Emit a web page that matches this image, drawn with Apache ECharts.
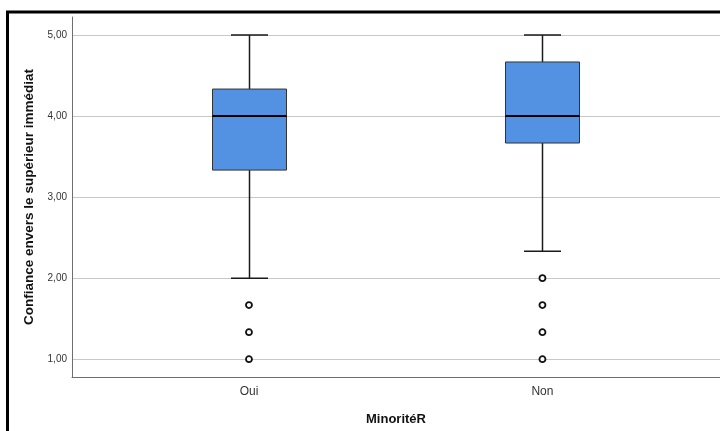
<!DOCTYPE html>
<html>
<head>
<meta charset="utf-8">
<script src="https://cdn.jsdelivr.net/npm/echarts@6/dist/echarts.min.js"></script>
<style>html,body{margin:0;padding:0;background:#fff}#c{width:720px;height:431px}</style>
</head>
<body>
<div id="c"></div>
<script>
// Data
var categories = ['Oui', 'Non'];
var whiskerLow  = [2.00, 2.333];
var q1Values    = [3.333, 3.667];
var medians     = [4.00, 4.00];
var q3Values    = [4.333, 4.667];
var whiskerHigh = [5.00, 5.00];
var outliersOui = [1.667, 1.333, 1.00];
var outliersNon = [2.00, 1.667, 1.333, 1.00];
var yTicks = [1, 2, 3, 4, 5];
var xTitle = 'MinoritéR';
var yTitle = 'Confiance envers le supérieur immédiat';

var FONT = 'Arial, "Liberation Sans", sans-serif';

var boxData = categories.map(function (c, i) {
  return [i, whiskerLow[i], q1Values[i], medians[i], q3Values[i], whiskerHigh[i]];
});
var outlierData = [];
outliersOui.forEach(function (v) { outlierData.push([0, v]); });
outliersNon.forEach(function (v) { outlierData.push([1, v]); });

var BOX_W = 74;

function renderBox(params, api) {
  var x = api.value(0);
  var pLow = api.coord([x, api.value(1)]);
  var pQ1 = api.coord([x, api.value(2)]);
  var pMed = api.coord([x, api.value(3)]);
  var pQ3 = api.coord([x, api.value(4)]);
  var pHigh = api.coord([x, api.value(5)]);
  var cx = Math.round(pMed[0]) + 0.5;
  var hw = BOX_W / 2;
  var cw = BOX_W / 4;
  var lineStyle = { stroke: '#1a1a1a', lineWidth: 1.5 };
  return {
    type: 'group',
    children: [
      { type: 'line', shape: { x1: cx, y1: pLow[1], x2: cx, y2: pQ1[1] }, style: lineStyle },
      { type: 'line', shape: { x1: cx, y1: pQ3[1], x2: cx, y2: pHigh[1] }, style: lineStyle },
      { type: 'line', shape: { x1: cx - cw, y1: pLow[1], x2: cx + cw, y2: pLow[1] }, style: lineStyle },
      { type: 'line', shape: { x1: cx - cw, y1: pHigh[1], x2: cx + cw, y2: pHigh[1] }, style: lineStyle },
      { type: 'rect', shape: { x: cx - hw, y: pQ3[1], width: BOX_W, height: pQ1[1] - pQ3[1] },
        style: { fill: '#5392e2', stroke: '#333333', lineWidth: 1 } },
      { type: 'line', shape: { x1: cx - hw, y1: pMed[1], x2: cx + hw, y2: pMed[1] },
        style: { stroke: '#000', lineWidth: 2 } }
    ]
  };
}

var chart = echarts.init(document.getElementById('c'), null, { renderer: 'canvas' });
chart.setOption({
  animation: false,
  backgroundColor: '#fff',
  grid: { left: 72, right: 0, top: 17, bottom: 54, containLabel: false, outerBoundsMode: 'none' },
  xAxis: {
    type: 'value',
    min: -0.603,
    max: 1.605,
    name: xTitle,
    nameLocation: 'middle',
    nameGap: 36,
    nameTextStyle: { fontFamily: FONT, fontSize: 13, fontWeight: 'bold', color: '#111' },
    axisLine: { show: true, onZero: false, lineStyle: { color: '#6e6e6e', width: 1 } },
    axisTick: { show: false, customValues: [0, 1] },
    splitLine: { show: false },
    axisLabel: {
      customValues: [0, 1],
      margin: 9,
      fontFamily: FONT, fontSize: 12, color: '#333',
      formatter: function (v) { return categories[Math.round(v)] || ''; }
    }
  },
  yAxis: {
    type: 'value',
    min: 0.78,
    max: 5.222,
    name: yTitle,
    nameLocation: 'middle',
    nameGap: 31,
    nameTextStyle: { fontFamily: FONT, fontSize: 13.5, fontWeight: 'bold', color: '#111' },
    axisLine: { show: true, onZero: false, lineStyle: { color: '#6e6e6e', width: 1 } },
    axisTick: { show: false, customValues: yTicks },
    splitLine: { show: true, lineStyle: { color: '#c8c8c8', width: 1 } },
    axisLabel: {
      customValues: yTicks,
      margin: 5,
      fontFamily: FONT, fontSize: 10, color: '#333',
      formatter: function (v) { return v.toFixed(2).replace('.', ','); }
    }
  },
  series: [
    {
      type: 'custom',
      renderItem: renderBox,
      data: boxData,
      encode: { x: 0, y: [1, 2, 3, 4, 5] },
      z: 3
    },
    {
      type: 'scatter',
      data: outlierData,
      symbol: 'circle',
      symbolSize: 6,
      itemStyle: { color: '#fff', borderColor: '#111', borderWidth: 1.8, opacity: 1 },
      z: 4
    }
  ],
  graphic: [
    {
      type: 'rect',
      shape: { x: 7.5, y: 12, width: 800, height: 500 },
      style: { fill: 'none', stroke: '#000', lineWidth: 3 },
      z: 100
    }
  ]
});
</script>
</body>
</html>
